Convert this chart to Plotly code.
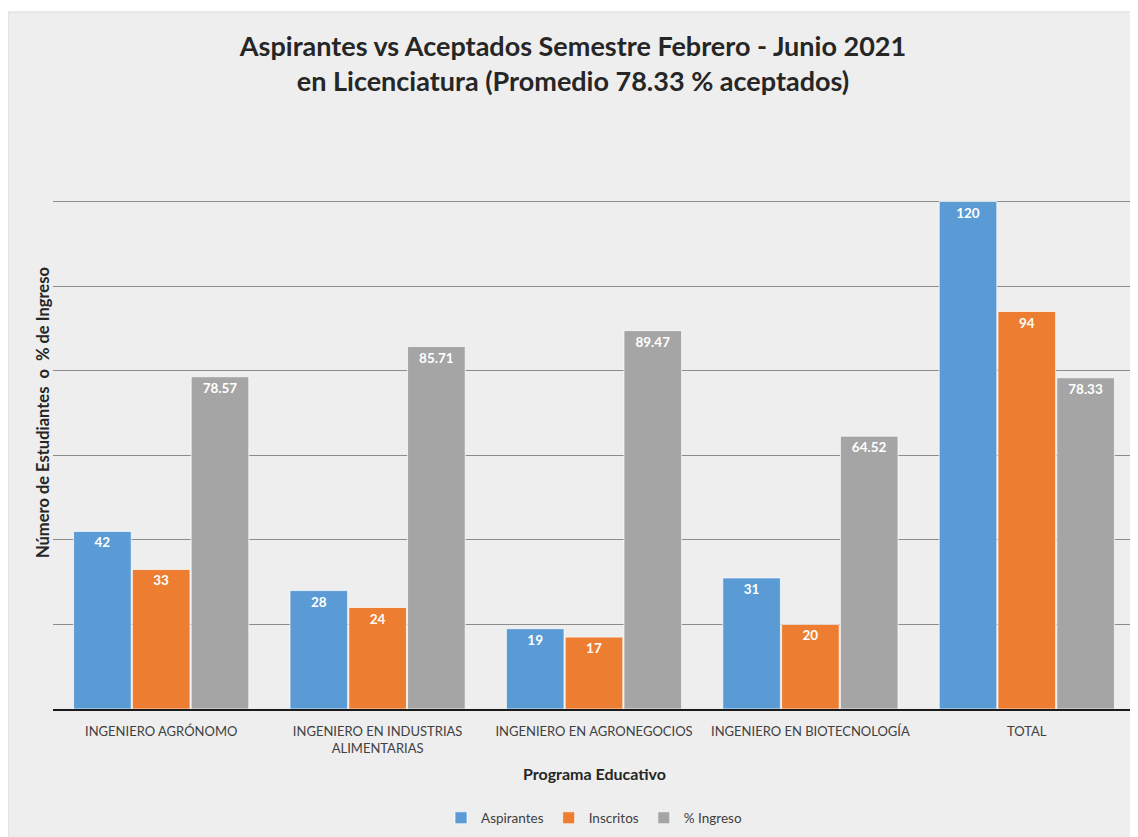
import plotly.graph_objects as go

categories = ["INGENIERO AGRÓNOMO", "INGENIERO EN INDUSTRIAS<br>ALIMENTARIAS",
              "INGENIERO EN AGRONEGOCIOS", "INGENIERO EN BIOTECNOLOGÍA", "TOTAL"]
aspirantes = [42, 28, 19, 31, 120]
inscritos = [33, 24, 17, 20, 94]
ingreso = [78.57, 85.71, 89.47, 64.52, 78.33]
ingreso_labels = ["78.57", "85.71", "89.47", "64.52", "78.33"]

FONT = "Lato"
OFF = 8  # page body margin
W, H = 1138 - OFF, 837 - OFF
L = 53 - OFF
T = 117 - OFF
B = H - (709 - OFF)
R = W - (1135 - OFF)
pw = W - L - R
ph = H - T - B

def px_x(p):
    return (p - OFF - L) / pw

def px_y(p):
    return (H - B - (p - OFF)) / ph

fig = go.Figure()
series = [
    ("Aspirantes", aspirantes, [str(v) for v in aspirantes], "#5b9bd5"),
    ("Inscritos", inscritos, [str(v) for v in inscritos], "#ed7d31"),
    ("% Ingreso", ingreso, ingreso_labels, "#a5a5a5"),
]
for name, vals, labels, color in series:
    fig.add_trace(go.Bar(
        x=categories, y=vals, name=name, text=labels,
        textposition="inside", insidetextanchor="end",
        textfont=dict(family=FONT, size=13.5, color="white", weight="bold"),
        textangle=0,
        marker=dict(color=color, line=dict(color="rgba(255,255,255,0.7)", width=1)),
    ))

fig.update_layout(
    width=W, height=H,
    margin=dict(l=L, r=R, t=T, b=B),
    paper_bgcolor="white",
    plot_bgcolor="rgba(0,0,0,0)",
    barmode="group", bargap=0.185, bargroupgap=0.02,
    font=dict(family=FONT, color="#404040"),
    title=dict(
        text="<b>Aspirantes vs Aceptados Semestre Febrero - Junio 2021<br>en Licenciatura (Promedio 78.33 % aceptados)</b>",
        x=0.5, xanchor="center", y=1 - 48 / H, yanchor="middle",
        font=dict(family=FONT, size=27, color="#262626"),
    ),
    xaxis=dict(
        showline=True, linecolor="#1a1a1a", linewidth=2,
        tickfont=dict(family=FONT, size=13, color="#404040"),
        ticks="", showgrid=False, ticklabelstandoff=9,
    ),
    yaxis=dict(
        range=[0, 140], dtick=20, showticklabels=False,
        showgrid=True, gridcolor="#8c8c8c", gridwidth=1,
        zeroline=False, showline=False,
    ),
    legend=dict(
        orientation="h", x=0.5, xanchor="center", y=px_y(818), yanchor="middle",
        font=dict(family=FONT, size=13.5, color="#404040"),
        bgcolor="rgba(0,0,0,0)", itemwidth=30,
    ),
    shapes=[dict(
        type="rect", xref="paper", yref="paper", layer="below",
        x0=px_x(8), x1=px_x(1140), y0=px_y(840), y1=px_y(12),
        fillcolor="#eeeeee", line=dict(color="#d9d9d9", width=1),
    )],
    annotations=[
        dict(text="<b>Programa Educativo</b>", xref="paper", yref="paper",
             x=px_x(594), y=px_y(773), xanchor="center", yanchor="middle",
             showarrow=False,
             font=dict(family=FONT, size=16, color="#262626")),
        dict(text="<b>Número de Estudiantes  o  % de Ingreso</b>", xref="paper", yref="paper",
             x=px_x(43), y=px_y(413), xanchor="center", yanchor="middle",
             showarrow=False, textangle=-90,
             font=dict(family=FONT, size=16.5, color="#262626")),
    ],
)

fig.write_html("out.html")
